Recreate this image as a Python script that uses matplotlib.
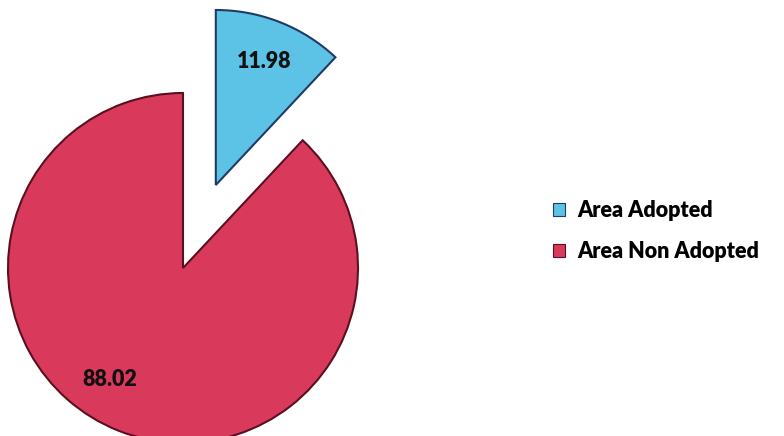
import matplotlib.pyplot as plt
from matplotlib.patches import Patch

labels = ["Area Adopted", "Area Non Adopted"]
values = [11.98, 88.02]
colors = ["#5cc3e6", "#d93a5c"]
edges = ["#1f3b66", "#5a1020"]

plt.rcParams["font.family"] = ["Lato", "DejaVu Sans"]

fig = plt.figure(figsize=(7.84, 4.36), dpi=100)
ax = fig.add_axes([0, 0, 1, 1])

wedges, texts = ax.pie(values, colors=colors, startangle=90, counterclock=False,
                       explode=[0.51, 0], radius=1,
                       labels=["%.2f" % v for v in values], labeldistance=0.76,
                       textprops=dict(fontsize=15.5, fontweight="heavy", color="#111111",
                                      ha="center", va="center"),
                       wedgeprops=dict(linewidth=1.5))
for w, e in zip(wedges, edges):
    w.set_edgecolor(e)
texts[1].set_position((-0.42, -0.64))

ax.set_xlim(-183 / 175, 601 / 175)
ax.set_ylim(-168 / 175, 268 / 175)
ax.set_aspect("equal")
ax.axis("off")

handles = [Patch(facecolor=c, edgecolor=e, linewidth=0.8) for c, e in zip(colors, edges)]
fig.legend(handles, labels, loc="center left", bbox_to_anchor=(0.681, 0.47),
           frameon=False, prop=dict(size=15.5, weight="heavy"),
           handlelength=0.55, handleheight=0.55, handletextpad=0.55, labelspacing=0.95)

fig.savefig("out.png", dpi=100)
